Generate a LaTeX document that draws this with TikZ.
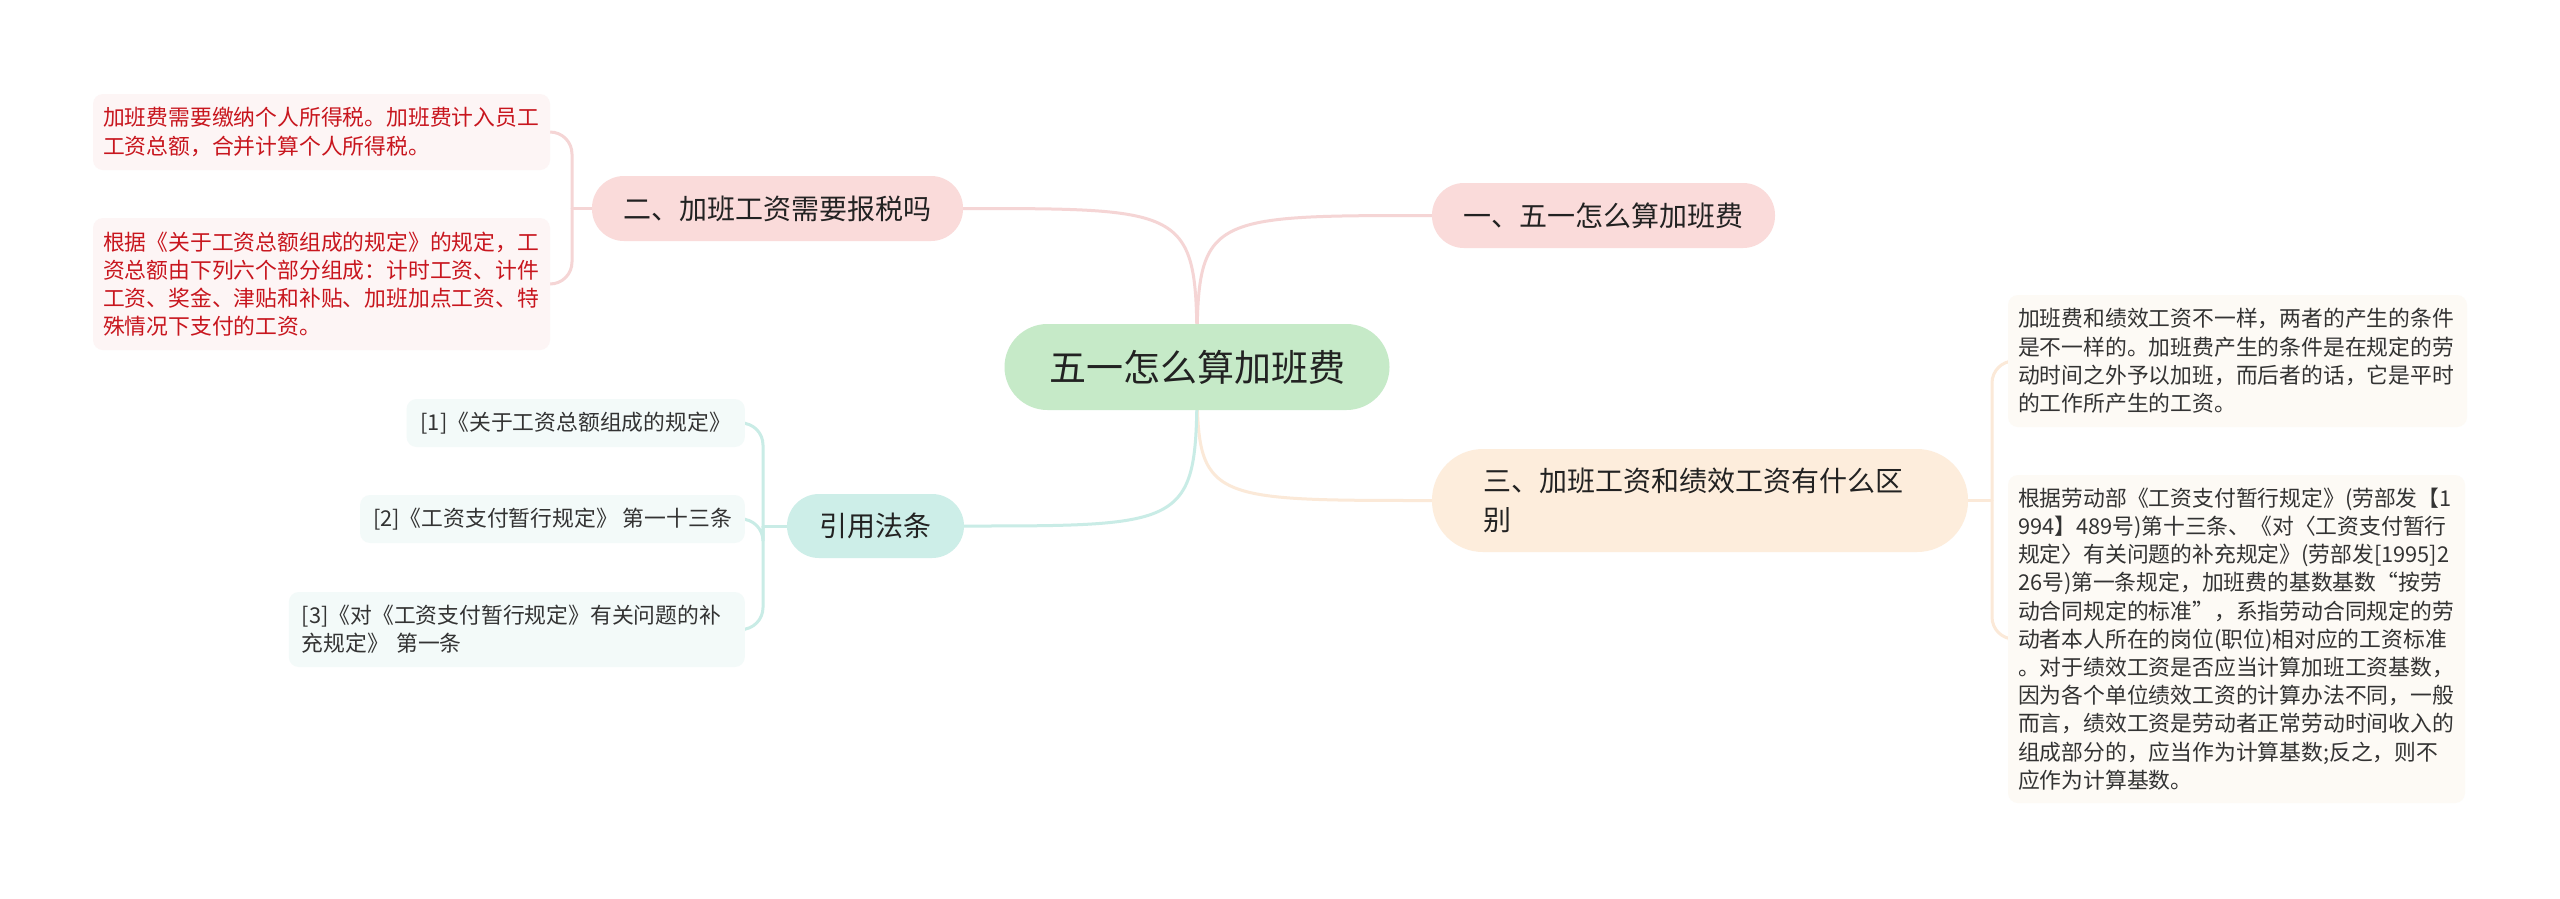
\documentclass[tikz,border=0pt]{standalone}
\usepackage{fontspec}
\newfontfamily\cjk{Noto Sans CJK SC}
\pgfdeclarelayer{paper}
\pgfdeclarelayer{lines}
\pgfsetlayers{paper,lines,main}
\definecolor{rootfill}{HTML}{C6EAC8}
\definecolor{pinkfill}{HTML}{FADBDA}
\definecolor{peachfill}{HTML}{FDEDDC}
\definecolor{tealfill}{HTML}{CDEEE8}
\definecolor{leafpink}{HTML}{FDF5F5}
\definecolor{leafpeach}{HTML}{FDFAF5}
\definecolor{leafteal}{HTML}{F3FAF9}
\definecolor{pinkline}{HTML}{F5D5D5}
\definecolor{peachline}{HTML}{FBE9D8}
\definecolor{tealline}{HTML}{C9ECE6}
\definecolor{redtext}{HTML}{C8161E}
\definecolor{darktext}{HTML}{222222}
\definecolor{leaftext}{HTML}{333333}
\newcommand\fsroot{\fontsize{37pt}{44pt}\selectfont}
\newcommand\fsmain{\fontsize{28pt}{39pt}\selectfont}
\newcommand\fsleaf{\fontsize{21.8pt}{28.2pt}\selectfont}
\tikzset{
  rootbox/.style={fill=rootfill, rounded corners=43pt, inner sep=0pt, minimum width=385pt, minimum height=86pt, font=\cjk\fsroot, text=darktext},
  mainbox/.style={rounded corners=32pt, inner sep=0pt, minimum height=65pt, font=\cjk\fsmain, text=darktext},
  leafbox/.style={rounded corners=10pt, inner xsep=10pt, inner ysep=6pt, align=left, font=\cjk\fsleaf},
  conn/.style={line width=3pt, line cap=round},
  bracket/.style={line width=3pt, rounded corners=22pt}
}
\begin{document}
\begin{tikzpicture}[x=1pt,y=-1pt]
\useasboundingbox (0,0) rectangle (2560,898);
\begin{pgfonlayer}{paper}
\fill[white] (0,0) rectangle (2560,898);
\end{pgfonlayer}

% root
\node[rootbox] (root) at (1197,367) {五一怎么算加班费};

% main topics
\node[mainbox, fill=pinkfill, minimum width=343pt] (n1) at (1603.5,215.5) {一、五一怎么算加班费};
\node[mainbox, fill=pinkfill, minimum width=371pt] (n2) at (777.5,208.5) {二、加班工资需要报税吗};
\node[mainbox, fill=peachfill, rounded corners=51pt, minimum width=536pt, minimum height=103pt, inner xsep=51pt, text width=434pt, align=left] (n3) at (1700,500.5) {三、加班工资和绩效工资有什么区\\别};
\node[mainbox, fill=tealfill, minimum width=177pt, minimum height=64pt] (cite) at (875.5,526) {引用法条};

% left leaves (red)
\node[leafbox, fill=leafpink, text=redtext, text width=437pt, minimum height=76pt] (L1) at (321.5,132) {加班费需要缴纳个人所得税。加班费计入员工\\工资总额，合并计算个人所得税。};
\node[leafbox, fill=leafpink, text=redtext, text width=437pt, minimum height=132pt] (L2) at (321.5,284) {根据《关于工资总额组成的规定》的规定，工\\资总额由下列六个部分组成：计时工资、计件\\工资、奖金、津贴和补贴、加班加点工资、特\\殊情况下支付的工资。};

% right leaves
\node[leafbox, fill=leafpeach, text=leaftext, text width=439pt, minimum height=132pt] (RA) at (2237.5,361) {加班费和绩效工资不一样，两者的产生的条件\\是不一样的。加班费产生的条件是在规定的劳\\动时间之外予以加班，而后者的话，它是平时\\的工作所产生的工资。};
\node[leafbox, fill=leafpeach, text=leaftext, text width=437pt, minimum height=328pt] (RB) at (2236.5,639) {根据劳动部《工资支付暂行规定》(劳部发【1\\994】489号)第十三条、《对〈工资支付暂行\\规定〉有关问题的补充规定》(劳部发[1995]2\\26号)第一条规定，加班费的基数基数“按劳\\动合同规定的标准”，系指劳动合同规定的劳\\动者本人所在的岗位(职位)相对应的工资标准\\。对于绩效工资是否应当计算加班工资基数，\\因为各个单位绩效工资的计算办法不同，一般\\而言，绩效工资是劳动者正常劳动时间收入的\\组成部分的，应当作为计算基数;反之，则不\\应作为计算基数。};

% citation leaves
\node[leafbox, fill=leafteal, text=leaftext, inner xsep=14pt, minimum height=48pt, anchor=east] (C1) at (745,423) {[1]《关于工资总额组成的规定》};
\node[leafbox, fill=leafteal, text=leaftext, inner xsep=13pt, minimum height=48pt, anchor=east] (C2) at (745,519) {[2]《工资支付暂行规定》 第一十三条};
\node[leafbox, fill=leafteal, text=leaftext, inner xsep=13pt, text width=430pt, minimum height=75pt, anchor=east] (C3) at (745,629.5) {[3]《对《工资支付暂行规定》有关问题的补\\充规定》 第一条};

% junctions
\coordinate (j2) at (572,208.5);
\coordinate (j3) at (1992,500.5);
\coordinate (jc) at (763,526);

\begin{pgfonlayer}{lines}
% root connectors
\draw[conn, pinkline] (root.center) .. controls (root.center |- n2.east) .. (n2.east);
\draw[conn, pinkline] (root.center) .. controls (root.center |- n1.west) .. (n1.west);
\draw[conn, peachline] (root.center) .. controls (root.center |- n3.west) .. (n3.west);
\draw[conn, tealline] (root.center) .. controls (root.center |- cite.east) .. (cite.east);
% brackets
\draw[conn, pinkline] (n2.west) -- (j2);
\draw[bracket, pinkline] (j2) -- (j2 |- L1.east) -- (L1.east);
\draw[bracket, pinkline] (j2) -- (j2 |- L2.east) -- (L2.east);
\draw[conn, peachline] (n3.east) -- (j3);
\draw[bracket, peachline] (j3) -- (j3 |- RA.west) -- (RA.west);
\draw[bracket, peachline] (j3) -- (j3 |- RB.west) -- (RB.west);
\draw[conn, tealline] (cite.west) -- (jc);
\draw[bracket, tealline] (jc) -- (jc |- C1.east) -- (C1.east);
\draw[bracket, tealline] (jc) -- (jc |- C2.east) -- (C2.east);
\draw[bracket, tealline] (jc) -- (jc |- C3.east) -- (C3.east);
\end{pgfonlayer}
\end{tikzpicture}
\end{document}
